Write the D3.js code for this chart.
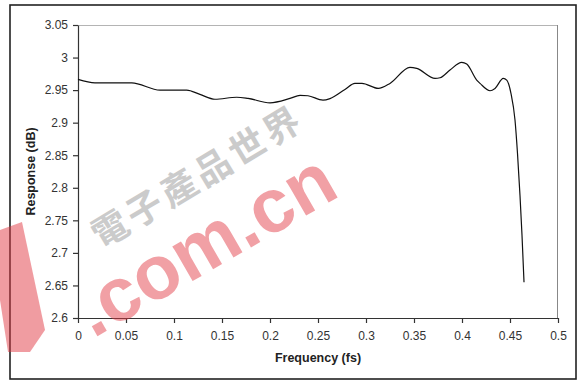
<!DOCTYPE html>
<html><head><meta charset="utf-8">
<script src="https://cdn.jsdelivr.net/npm/d3@7"></script>
<style>
html,body{margin:0;padding:0;background:#fff;}
svg{display:block;font-family:"Liberation Sans",Arial,sans-serif;}
</style></head>
<body>
<svg id="c" width="577" height="381"></svg>
<script>
const freq = [0, 0.0177, 0.056, 0.0854, 0.1132, 0.127, 0.1427, 0.1653, 0.1771, 0.2, 0.2208, 0.2313, 0.2396, 0.2552, 0.2625, 0.2781, 0.2885, 0.2958, 0.3128, 0.325, 0.3458, 0.3528, 0.3719, 0.3771, 0.3875, 0.3997, 0.4049, 0.4153, 0.4188, 0.4292, 0.4344, 0.443, 0.4466, 0.451, 0.4552, 0.4578, 0.4604, 0.4625, 0.4646];
const response = [2.9665, 2.9612, 2.9612, 2.95, 2.95, 2.9434, 2.936, 2.939, 2.9372, 2.9305, 2.9372, 2.942, 2.9413, 2.9346, 2.937, 2.951, 2.9603, 2.9603, 2.9526, 2.9603, 2.985, 2.9834, 2.968, 2.969, 2.9808, 2.9926, 2.99, 2.9654, 2.9603, 2.949, 2.9526, 2.968, 2.9654, 2.945, 2.904, 2.853, 2.7885, 2.727, 2.655];
const xTicks = [0, 0.05, 0.1, 0.15, 0.2, 0.25, 0.3, 0.35, 0.4, 0.45, 0.5];
const xTickLabels = ["0", "0.05", "0.1", "0.15", "0.2", "0.25", "0.3", "0.35", "0.4", "0.45", "0.5"];
const yTicks = [2.6, 2.65, 2.7, 2.75, 2.8, 2.85, 2.9, 2.95, 3, 3.05];
const yTickLabels = ["2.6", "2.65", "2.7", "2.75", "2.8", "2.85", "2.9", "2.95", "3", "3.05"];
const xTitle = "Frequency (fs)";
const yTitle = "Response (dB)";
const wmChinese = "電子產品世界";
const wmLatin = ".com.cn";

const svg = d3.select("#c");
const L = 78, R = 558, T = 25, B = 318;
const x = d3.scaleLinear().domain([0, 0.5]).range([L, R]);
const y = d3.scaleLinear().domain([2.6, 3.05]).range([B, T]);

// outer frame
svg.append("rect").attr("x", 10).attr("y", 5).attr("width", 566).attr("height", 374)
  .attr("fill", "#fff").attr("stroke", "#222").attr("stroke-width", 1.6);

// plot frame (top/right grey)
svg.append("line").attr("x1", L).attr("x2", R).attr("y1", T + 0.5).attr("y2", T + 0.5)
  .attr("stroke", "#b4b4b4").attr("stroke-width", 1.2);
svg.append("line").attr("x1", R - 0.5).attr("x2", R - 0.5).attr("y1", T).attr("y2", B)
  .attr("stroke", "#888").attr("stroke-width", 1);

// watermark grey characters
svg.append("text")
  .attr("transform", "translate(196,174) rotate(-31)")
  .attr("text-anchor", "middle").attr("dominant-baseline", "central")
  .attr("font-family", "'Noto Sans CJK TC','Noto Sans CJK SC',sans-serif")
  .attr("font-size", 36).attr("font-weight", "bold")
  .attr("fill", "#aaa").attr("opacity", 0.6)
  .attr("letter-spacing", 4)
  .text(wmChinese);

// axes
const xAxis = d3.axisBottom(x).tickValues(xTicks).tickFormat((d, i) => xTickLabels[i]).tickSize(5).tickSizeOuter(0).tickPadding(8);
const yAxis = d3.axisLeft(y).tickValues(yTicks).tickFormat((d, i) => yTickLabels[i]).tickSize(5).tickSizeOuter(0).tickPadding(5);

const gx = svg.append("g").attr("transform", `translate(0,${B})`).call(xAxis);
const gy = svg.append("g").attr("transform", `translate(${L},0)`).call(yAxis);
[gx, gy].forEach(g => {
  g.select(".domain").attr("stroke", "#333").attr("stroke-width", 1.2);
  g.selectAll(".tick line").attr("stroke", "#333").attr("stroke-width", 1.2);
  g.selectAll(".tick text").attr("fill", "#333").attr("font-size", 12)
    .attr("font-family", "'Liberation Sans',Arial,sans-serif");
});

// curve
const line = d3.line().x((d, i) => x(freq[i])).y((d, i) => y(response[i])).curve(d3.curveMonotoneX);
svg.append("path").datum(response).attr("d", line)
  .attr("fill", "none").attr("stroke", "#111").attr("stroke-width", 1.2);

// titles
svg.append("text").attr("x", (L + R) / 2).attr("y", 362).attr("text-anchor", "middle")
  .attr("font-size", 12.5).attr("font-weight", "bold").attr("fill", "#222").text(xTitle);
svg.append("text").attr("transform", `translate(35,${(T + B) / 2}) rotate(-90)`)
  .attr("text-anchor", "middle").attr("font-size", 12.5).attr("font-weight", "bold")
  .attr("fill", "#222").text(yTitle);

// watermark red
svg.append("polygon").attr("points", "0,230 22,222 45,330 30,352 8,352 0,300")
  .attr("fill", "#e23a44").attr("opacity", 0.5);
svg.append("text")
  .attr("transform", "translate(204,244) rotate(-30)")
  .attr("text-anchor", "middle").attr("dominant-baseline", "central")
  .attr("font-size", 76).attr("font-weight", "bold")
  .attr("fill", "#e23a44").attr("opacity", 0.48)
  .text(wmLatin);
</script>
</body></html>
